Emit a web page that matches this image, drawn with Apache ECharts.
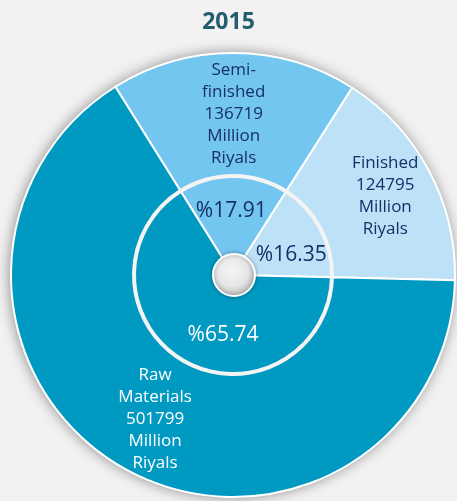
<!DOCTYPE html>
<html>
<head>
<meta charset="utf-8">
<script src="https://cdn.jsdelivr.net/npm/echarts@6/dist/echarts.min.js"></script>
<style>
html,body{margin:0;padding:0;background:#f2f2f2;}
#c{width:457px;height:501px;}
</style>
</head>
<body>
<div id="c"></div>
<script>
const title = '2015';
const categories = ['Semi-\nfinished', 'Finished', 'Raw\nMaterials'];
const values = [136719, 124795, 501799];
const percents = ['%17.91', '%16.35', '%65.74'];
const unit = 'Million\nRiyals';

const colors = ['#73c6f0', '#bde1f6', '#0099c2'];
const nameColors = ['#172f69', '#172f69', '#ffffff'];
const outerOffsets = [[0, 3], [8, -2], [3, 2]];
const innerOffsets = [[-2, -11], [12, 5], [16, 14]];

const CX = 233, CY = 275, R = 222, RI = 99;
const FONT = 'Open Sans';

const chart = echarts.init(document.getElementById('c'));

const outerData = categories.map((n, i) => ({
  name: n,
  value: values[i],
  itemStyle: { color: colors[i] },
  label: {
    color: nameColors[i],
    offset: outerOffsets[i],
    formatter: n + '\n' + values[i] + '\n' + unit
  }
}));
const innerData = categories.map((n, i) => ({
  name: n,
  value: values[i],
  itemStyle: { color: colors[i] },
  label: {
    color: nameColors[i],
    offset: innerOffsets[i],
    formatter: percents[i]
  }
}));
const ringData = categories.map((n, i) => ({ name: n, value: values[i] }));

chart.setOption({
  backgroundColor: '#f2f2f2',
  animation: false,
  title: {
    text: title,
    left: 'center',
    top: 6,
    textStyle: { fontFamily: FONT, fontSize: 23, fontWeight: 'bold', color: '#245d6e' }
  },
  graphic: [
    {
      type: 'circle', z: 0, silent: true,
      shape: { cx: CX, cy: CY, r: R },
      style: { fill: '#0099c2', shadowBlur: 14, shadowColor: 'rgba(0,0,0,0.45)', shadowOffsetX: -1, shadowOffsetY: 0 }
    },
    {
      type: 'circle', z: 100, silent: true,
      shape: { cx: CX + 1, cy: CY, r: 21 },
      style: {
        fill: {
          type: 'radial', x: 0.45, y: 0.4, r: 0.6,
          colorStops: [{ offset: 0, color: '#f6f6f6' }, { offset: 0.6, color: '#e6e6e6' }, { offset: 1, color: '#b5b5b5' }]
        },
        stroke: '#ffffff', lineWidth: 2,
        shadowBlur: 4, shadowColor: 'rgba(0,0,0,0.3)'
      }
    }
  ],
  series: [
    {
      type: 'pie', z: 2, silent: true,
      center: [CX, CY], radius: [RI, R],
      startAngle: 122, clockwise: true,
      avoidLabelOverlap: false,
      itemStyle: { borderColor: '#ffffff', borderWidth: 2 },
      label: { show: true, position: 'inside', fontFamily: FONT, fontSize: 17, lineHeight: 22, align: 'center' },
      labelLine: { show: false },
      data: outerData
    },
    {
      type: 'pie', z: 3, silent: true,
      center: [CX, CY], radius: [0, RI],
      startAngle: 122, clockwise: true,
      avoidLabelOverlap: false,
      itemStyle: { borderColor: '#ffffff', borderWidth: 2 },
      label: { show: true, position: 'inside', fontFamily: FONT, fontSize: 21 },
      labelLine: { show: false },
      data: innerData
    },
    {
      type: 'pie', z: 4, silent: true,
      center: [CX, CY], radius: [RI - 2, RI + 2],
      startAngle: 122, clockwise: true,
      itemStyle: { color: '#f4f4f4', borderWidth: 0 },
      label: { show: false },
      labelLine: { show: false },
      data: ringData
    }
  ]
});
</script>
</body>
</html>
